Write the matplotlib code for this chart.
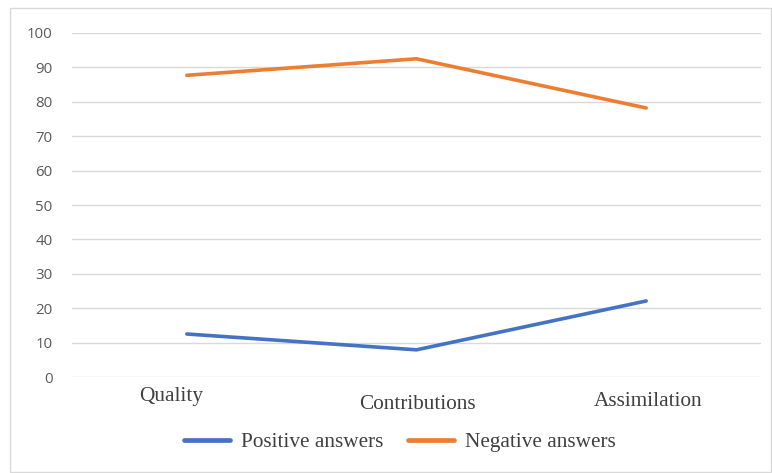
import matplotlib
matplotlib.use("Agg")
import matplotlib.pyplot as plt
from matplotlib.patches import Rectangle

categories = ["Quality", "Contributions", "Assimilation"]
positive = [12.5, 7.9, 22.1]
negative = [87.7, 92.5, 78.2]
series_names = ["Positive answers", "Negative answers"]
yticks = list(range(0, 101, 10))

W, H = 772, 473
fig = plt.figure(figsize=(W / 100, H / 100), dpi=100)
fig.patch.set_facecolor("white")
fig.add_artist(Rectangle((10 / W, 1 - 472 / H), 761 / W, (472 - 8) / H,
                         transform=fig.transFigure, fill=False,
                         edgecolor="#d9d9d9", linewidth=1))

left, right, top, bottom = 72, 761, 33, 377
ax = fig.add_axes([left / W, 1 - bottom / H, (right - left) / W, (bottom - top) / H])
x = list(range(len(categories)))
blue, orange = "#4472c4", "#ed7d31"
ax.plot(x, positive, color=blue, linewidth=2.6, solid_capstyle="round", label=series_names[0])
ax.plot(x, negative, color=orange, linewidth=2.6, solid_capstyle="round", label=series_names[1])
ax.set_xlim(-0.5, 2.5)
ax.set_ylim(0, 100)
ax.set_yticks(yticks)
ax.set_yticklabels([str(v) for v in yticks], fontsize=10.8, color="#595959", family="Open Sans")
ax.grid(axis="y", color="#d9d9d9", linewidth=1)
ax.set_axisbelow(True)
for s in ax.spines.values():
    s.set_visible(False)
ax.tick_params(axis="y", length=0, pad=14)
ax.tick_params(axis="x", length=0)
ax.set_xticks(x)
ax.set_xticklabels([])
label_px = [(171, 397), (417, 404), (648, 402)]
for c, (px, py) in zip(categories, label_px):
    fig.text(px / W, 1 - py / H, c, ha="center", va="center",
             fontsize=15.3, family="Liberation Serif", color="#404040")

leg = fig.legend(loc="center", bbox_to_anchor=(400 / W, 1 - 442 / H), ncol=2, frameon=False,
                 prop={"family": "Liberation Serif", "size": 15.3}, handlelength=2.15,
                 columnspacing=1.15, handletextpad=0.55)
for t in leg.get_texts():
    t.set_color("#404040")
for l in leg.get_lines():
    l.set_linewidth(3.4)

fig.savefig("out.png", dpi=100)
